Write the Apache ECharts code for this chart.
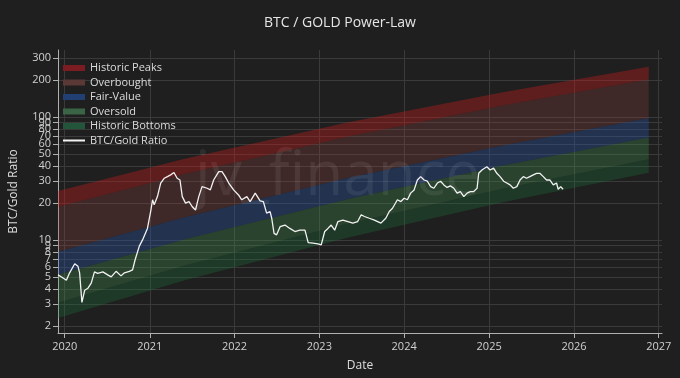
<!DOCTYPE html>
<html>
<head>
<meta charset="utf-8">
<script src="https://cdn.jsdelivr.net/npm/echarts@6/dist/echarts.min.js"></script>
<style>
html,body{margin:0;padding:0;background:#1f1f1f;}
#chart{width:680px;height:378px;}
</style>
</head>
<body>
<div id="chart"></div>
<script>
// ---- data ----
const ratioDates = ['2019-12-03','2019-12-25','2020-01-08','2020-01-22','2020-02-13','2020-02-27','2020-03-05','2020-03-15','2020-03-27','2020-04-10','2020-04-24','2020-05-08','2020-05-22','2020-06-13','2020-07-04','2020-07-19','2020-08-09','2020-08-30','2020-09-14','2020-10-05','2020-10-19','2020-10-30','2020-11-17','2020-12-01','2020-12-22','2021-01-06','2021-01-13','2021-01-20','2021-02-03','2021-02-17','2021-03-04','2021-03-18','2021-04-01','2021-04-15','2021-04-29','2021-05-11','2021-05-21','2021-06-04','2021-06-19','2021-07-03','2021-07-17','2021-07-31','2021-08-14','2021-09-05','2021-09-19','2021-10-03','2021-10-25','2021-11-08','2021-11-22','2021-12-07','2021-12-28','2022-01-18','2022-02-01','2022-02-23','2022-03-09','2022-03-31','2022-04-21','2022-05-05','2022-05-19','2022-06-03','2022-06-10','2022-06-20','2022-07-01','2022-07-16','2022-08-06','2022-08-27','2022-09-18','2022-10-09','2022-10-31','2022-11-14','2022-12-05','2022-12-26','2023-01-09','2023-01-24','2023-02-07','2023-02-21','2023-03-08','2023-03-22','2023-04-12','2023-05-04','2023-05-25','2023-06-15','2023-06-30','2023-07-14','2023-08-04','2023-08-26','2023-09-09','2023-09-23','2023-10-14','2023-10-29','2023-11-12','2023-12-03','2023-12-18','2024-01-01','2024-01-15','2024-01-29','2024-02-13','2024-02-27','2024-03-12','2024-03-27','2024-04-10','2024-04-24','2024-05-08','2024-05-23','2024-06-06','2024-06-20','2024-07-04','2024-07-18','2024-08-02','2024-08-16','2024-08-30','2024-09-14','2024-09-28','2024-10-12','2024-10-26','2024-11-10','2024-11-17','2024-12-01','2024-12-22','2025-01-05','2025-01-20','2025-02-03','2025-02-17','2025-03-04','2025-03-18','2025-04-01','2025-04-15','2025-04-30','2025-05-14','2025-05-28','2025-06-11','2025-06-25','2025-07-10','2025-07-24','2025-08-07','2025-08-22','2025-09-05','2025-09-19','2025-10-04','2025-10-18','2025-10-25','2025-11-05','2025-11-15'];
const ratioValues = [5.2,4.9,4.7,5.4,6.4,6.1,5.4,3.1,3.9,4.05,4.45,5.5,5.35,5.5,5.2,5.0,5.55,5.1,5.4,5.55,5.7,6.9,8.9,10.0,12.4,17.5,21.2,19.3,22.5,29,31.7,32.7,33.8,35.3,31.7,30.7,22.5,19.9,20.5,18.6,17.5,22.5,27.1,26.3,25.5,30.7,35.9,35.9,32.7,29,25.5,23.2,21.2,22.5,20.5,24.0,20.8,20.5,16.5,17,15,11.3,11,12.8,13.2,12.4,11.7,12,12,9.5,9.4,9.3,9.1,11.7,12.4,13.2,12,14.1,14.5,14.1,13.7,14.1,16.0,15.5,15.0,14.5,14.1,13.7,15,17,18.1,21.2,20.5,21.8,21.2,24,25.5,30.7,32.7,30.7,30,27.1,26.3,29,30,28,26.7,27.5,26.3,24,24.7,22.5,24,24.7,24.7,26.3,34.8,37,39.3,37,38.3,34.8,32.7,30,29,28,26.3,27.1,30.7,32.7,31.7,32.7,33.8,34.8,34.8,32.7,30.7,30.7,28,29,25.8,27.1,25.8];

const bandDates = ['2019-12-03','2021-06-01','2023-05-01','2025-03-01','2026-11-19'];
const peaksTop      = [25.0, 45.7, 89.9, 158.8, 256];
const peaksBottom   = [18.5, 34.4, 68.9, 123.6, 202];
const fairTop       = [8.0, 15.3, 31.8, 58.6, 98];
const fairBottom    = [5.2, 10.1, 21.4, 40.2, 68];
const oversoldBottom= [3.08, 6.18, 13.5, 26.1, 45.3];
const bottomsBase   = [2.32, 4.70, 10.4, 20.2, 35.2];

const yTicks = [2,3,4,5,6,7,8,9,10,20,30,40,50,60,70,80,90,100,200,300];
const xYears = [2020,2021,2022,2023,2024,2025,2026,2027];

const bandNames   = ['Historic Peaks','Overbought','Fair-Value','Oversold','Historic Bottoms'];
const bandFills   = ['rgba(200,30,30,0.38)','rgba(150,70,65,0.26)','rgba(40,90,180,0.32)','rgba(70,160,85,0.28)','rgba(30,120,60,0.30)'];
const legendSwatch= ['#7a1c22','#5a3836','#223f73','#3b6446','#22553a'];

// ---- build ----
const ts = d => new Date(d + 'T00:00:00Z').getTime();
const yearTs = xYears.map(y => ts(y + '-01-01'));
const edges = [peaksTop, peaksBottom, fairTop, fairBottom, oversoldBottom, bottomsBase];

const series = bandNames.map((name, k) => {
  const upper = edges[k], lower = edges[k+1];
  return {
    name, type:'custom', silent:true, z:2,
    itemStyle:{color:legendSwatch[k]},
    data: bandDates.map((d,i)=>[ts(d), upper[i], lower[i]]),
    renderItem: function(params, api){
      if (params.dataIndex !== 0) return null;
      const pts = [];
      for (let i=0;i<bandDates.length;i++) pts.push(api.coord([ts(bandDates[i]), upper[i]]));
      for (let i=bandDates.length-1;i>=0;i--) pts.push(api.coord([ts(bandDates[i]), lower[i]]));
      return {type:'polygon', shape:{points:pts}, style:{fill:bandFills[k]}};
    }
  };
});
series.push({
  name:'BTC/Gold Ratio', type:'line', symbol:'none', z:5,
  lineStyle:{color:'#f2f2f2', width:1.3}, itemStyle:{color:'#f2f2f2'},
  data: ratioDates.map((d,i)=>[ts(d), ratioValues[i]])
});

const font = '"Open Sans", "DejaVu Sans", sans-serif';
const chart = echarts.init(document.getElementById('chart'), null, {renderer:'canvas'});
chart.setOption({
  animation:false,
  backgroundColor:'#1f1f1f',
  title:{text:'BTC / GOLD Power-Law', left:'center', top:11,
    textStyle:{color:'#e6e6e6', fontSize:14, fontWeight:'normal', fontFamily:font}},
  legend:{
    orient:'vertical', left:63, top:62, padding:0, itemGap:2.5,
    itemWidth:22, itemHeight:6,
    textStyle:{color:'#dcdcdc', fontSize:11, fontFamily:font, lineHeight:12},
    data:[
      {name:'Historic Peaks', icon:'rect'},
      {name:'Overbought', icon:'rect'},
      {name:'Fair-Value', icon:'rect'},
      {name:'Oversold', icon:'rect'},
      {name:'Historic Bottoms', icon:'rect'},
      {name:'BTC/Gold Ratio', icon:'path://M0,0 L22,0 L22,2 L0,2 Z'}
    ]
  },
  grid:{left:53, right:18, top:50, bottom:45, containLabel:false},
  xAxis:{
    type:'value', min:ts('2019-12-03'), max:ts('2027-01-15'),
    name:'Date', nameLocation:'middle', nameGap:27,
    nameTextStyle:{color:'#dcdcdc', fontSize:12, fontFamily:font},
    axisLine:{show:true, lineStyle:{color:'#b0b0b0', width:1}},
    axisTick:{show:true, length:5, lineStyle:{color:'#b0b0b0'}, customValues: yearTs},
    axisLabel:{color:'#d0d0d0', fontSize:11, fontFamily:font, margin:8,
      customValues: yearTs,
      formatter: v => String(new Date(v).getUTCFullYear())},
    splitLine:{show:true, lineStyle:{color:'#3a3a3a', width:1}}
  },
  yAxis:{
    type:'log', min:1.75, max:350, logBase:10,
    name:'BTC/Gold Ratio', nameLocation:'middle', nameGap:38,
    nameTextStyle:{color:'#dcdcdc', fontSize:12, fontFamily:font},
    axisLine:{show:true, lineStyle:{color:'#b0b0b0', width:1}},
    axisTick:{show:true, length:5, lineStyle:{color:'#b0b0b0'}, customValues: yTicks},
    axisLabel:{color:'#d0d0d0', fontSize:11, fontFamily:font, margin:7, customValues: yTicks},
    splitLine:{show:true, lineStyle:{color:'#3a3a3a', width:1}},
    minorSplitLine:{show:false}
  },
  graphic:[{
    type:'text', left:195, top:146, z:100, silent:true,
    style:{text:'jv_finance', fill:'rgba(255,255,255,0.07)', font:'62px "Open Sans", sans-serif'}
  }],
  series: series
});
</script>
</body>
</html>
